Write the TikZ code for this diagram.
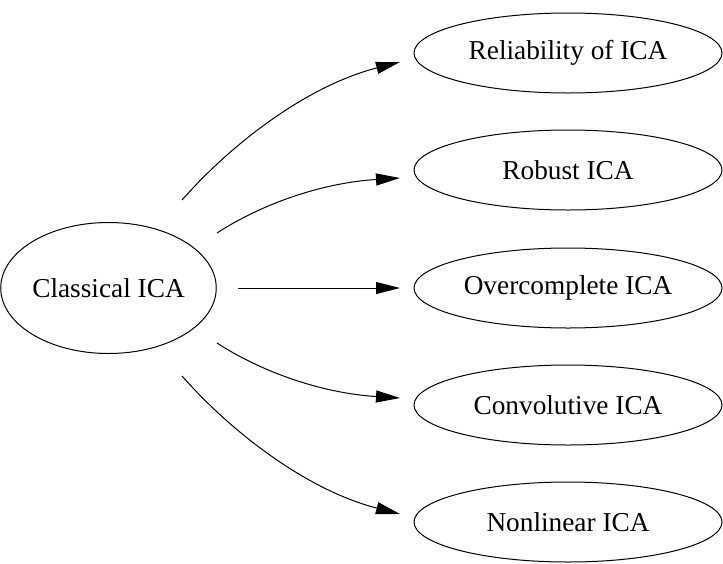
\documentclass[tikz,border=0pt]{standalone}
\usepackage{fontspec}
\setmainfont{Liberation Serif}
\usetikzlibrary{shapes.geometric,arrows.meta,calc}
\begin{document}
\begin{tikzpicture}[x=1pt,y=-1pt,
  every node/.style={font=\fontsize{27.3}{30}\selectfont},
  topic/.style={draw,ellipse,line width=1pt,inner sep=0pt,minimum width=308pt,minimum height=80pt},
  root/.style={draw,ellipse,line width=1pt,inner sep=0pt,minimum width=201pt,minimum height=131pt},
  link/.style={line width=1pt,-{Triangle[length=24pt,width=12pt]}}]
\useasboundingbox (0,0) rectangle (723,563);
\node[root] (c) at (108.5,288) {Classical ICA};
\node[topic] (r1) at (568,53) {Reliability of ICA};
\node[topic] (r2) at (568,170) {Robust ICA};
\node[topic] (r3) at (568,288) {Overcomplete ICA};
\node[topic] (r4) at (568,405) {Convolutive ICA};
\node[topic] (r5) at (568,522) {Nonlinear ICA};
\coordinate (s1) at ($(c)+(73.5,-88)$);
\coordinate (s2) at ($(c)+(108.5,-55)$);
\coordinate (s3) at ($(c)+(129.5,0)$);
\coordinate (s4) at ($(c)+(108.5,55)$);
\coordinate (s5) at ($(c)+(73.5,88)$);
\coordinate (e1) at ($(r1)+(-168,9)$);
\coordinate (e2) at ($(r2)+(-168,8)$);
\coordinate (e3) at ($(r3)+(-168,0)$);
\coordinate (e4) at ($(r4)+(-168,-7)$);
\coordinate (e5) at ($(r5)+(-168,-8)$);
\draw[link] (s1) .. controls +(53,-60) and +(-90,23) .. (e1);
\draw[link] (s2) .. controls +(43,-28) and +(-80,5) .. (e2);
\draw[link] (s3) -- (e3);
\draw[link] (s4) .. controls +(43,28) and +(-80,-5) .. (e4);
\draw[link] (s5) .. controls +(53,60) and +(-90,-23) .. (e5);
\end{tikzpicture}
\end{document}
